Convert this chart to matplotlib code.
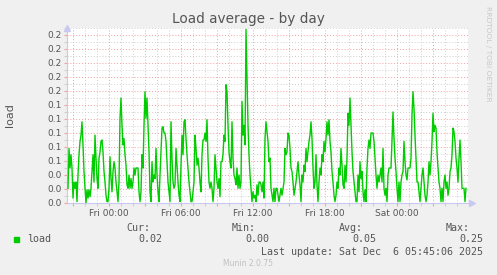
import matplotlib
matplotlib.use("Agg")
import matplotlib.pyplot as plt
import matplotlib.dates as mdates
from matplotlib.ticker import MultipleLocator, FuncFormatter
import pandas as pd

# ---- data (5-minute load samples) ----
load_seg1 = [0.021, 0.078, 0.050, 0.069, 0.050, 0.007, 0.030, 0.021, 0.030, 0.002, 0.040, 0.069, 0.088, 0.097, 0.116, 0.083, 0.045, 0.021, 0.000, 0.019, 0.007, 0.019, 0.009, 0.021, 0.045, 0.069, 0.030, 0.097, 0.064, 0.035, 0.021, 0.064, 0.073, 0.088, 0.090, 0.073, 0.045, 0.030, 0.011, 0.002, 0.002, 0.021, 0.066, 0.035, 0.016, 0.045, 0.059, 0.050, 0.030, 0.016, 0.002, 0.030, 0.121, 0.150, 0.111, 0.083, 0.092, 0.069, 0.054, 0.026, 0.021, 0.040, 0.021, 0.035, 0.021, 0.030, 0.050, 0.040]
load_seg2 = [0.050, 0.050, 0.050, 0.016, 0.002, 0.016, 0.069, 0.050, 0.111, 0.159, 0.121, 0.150, 0.111, 0.073, 0.016, 0.002, 0.059, 0.030, 0.040, 0.035, 0.078, 0.040, 0.016, 0.002, 0.040, 0.073, 0.107, 0.109, 0.100, 0.100, 0.088, 0.059, 0.030, 0.016, 0.002, 0.116, 0.064, 0.030, 0.021, 0.026, 0.078, 0.054, 0.030, 0.011, 0.002, 0.054, 0.097, 0.069, 0.116, 0.119, 0.092, 0.069, 0.050, 0.030, 0.016, 0.002, 0.002, 0.016, 0.030, 0.097, 0.078, 0.054, 0.064, 0.050, 0.030, 0.016]
load_seg3 = [0.069, 0.090, 0.090, 0.100, 0.088, 0.119, 0.064, 0.030, 0.021, 0.030, 0.021, 0.002, 0.021, 0.069, 0.050, 0.030, 0.021, 0.035, 0.009, 0.059, 0.059, 0.069, 0.097, 0.088, 0.169, 0.159, 0.111, 0.073, 0.059, 0.050, 0.116, 0.064, 0.040, 0.035, 0.026, 0.050, 0.021, 0.040, 0.021, 0.030, 0.145, 0.097, 0.111, 0.083, 0.248, 0.183, 0.111, 0.069, 0.040, 0.021, 0.002, 0.016, 0.007, 0.011, 0.002, 0.026, 0.011, 0.030, 0.030, 0.026, 0.016, 0.030, 0.007, 0.092, 0.116, 0.102, 0.088, 0.059]
load_seg4 = [0.064, 0.021, 0.011, 0.002, 0.021, 0.002, 0.021, 0.021, 0.011, 0.002, 0.011, 0.021, 0.011, 0.021, 0.030, 0.078, 0.069, 0.073, 0.100, 0.097, 0.078, 0.050, 0.045, 0.030, 0.011, 0.021, 0.030, 0.045, 0.059, 0.040, 0.026, 0.002, 0.040, 0.030, 0.054, 0.045, 0.078, 0.059, 0.073, 0.088, 0.097, 0.116, 0.092, 0.050, 0.021, 0.030, 0.069, 0.026, 0.002, 0.030, 0.050, 0.040, 0.069, 0.059, 0.088, 0.073, 0.092, 0.116, 0.097, 0.119, 0.088, 0.073, 0.045, 0.030, 0.011, 0.002, 0.011, 0.030]
load_seg5 = [0.021, 0.050, 0.040, 0.078, 0.054, 0.026, 0.021, 0.054, 0.030, 0.064, 0.128, 0.111, 0.150, 0.111, 0.073, 0.045, 0.030, 0.016, 0.002, 0.002, 0.040, 0.016, 0.059, 0.035, 0.045, 0.016, 0.002, 0.019, 0.002, 0.050, 0.078, 0.090, 0.078, 0.100, 0.100, 0.100, 0.088, 0.064, 0.040, 0.021, 0.040, 0.030, 0.040, 0.050, 0.030, 0.078, 0.021, 0.011, 0.021, 0.002, 0.040, 0.050, 0.050, 0.050, 0.088, 0.130, 0.092, 0.064, 0.045, 0.021, 0.002, 0.030, 0.002, 0.030, 0.040, 0.045, 0.088, 0.059]
load_seg6 = [0.040, 0.033, 0.050, 0.050, 0.050, 0.064, 0.126, 0.159, 0.135, 0.097, 0.064, 0.030, 0.030, 0.016, 0.002, 0.021, 0.040, 0.050, 0.030, 0.011, 0.002, 0.011, 0.030, 0.059, 0.040, 0.059, 0.088, 0.128, 0.102, 0.111, 0.107, 0.073, 0.050, 0.030, 0.021, 0.002, 0.021, 0.002, 0.030, 0.040, 0.021, 0.030, 0.011, 0.021, 0.045, 0.050, 0.069, 0.107, 0.102, 0.088, 0.064, 0.050, 0.030, 0.064, 0.090, 0.059, 0.021, 0.021, 0.021, 0.002, 0.021]
load = load_seg1 + load_seg2 + load_seg3 + load_seg4 + load_seg5 + load_seg6

last_sample = "2025-12-06 05:45"
x_start = "2025-12-04 20:30"
x_end = "2025-12-06 05:55"

title = "Load average - by day"
ylabel = "load"
series_name = "load"
stat_headers = ["Cur:", "Min:", "Avg:", "Max:"]
stat_values = ["0.02", "0.00", "0.05", "0.25"]
last_update = "Last update: Sat Dec  6 05:45:06 2025"
footer = "Munin 2.0.75"
side_text = "RRDTOOL / TOBI OETIKER"

times = pd.date_range(end=last_sample, periods=len(load), freq="5min")

# ---- figure ----
W, H = 497, 275
fig = plt.figure(figsize=(W / 100, H / 100), dpi=100, facecolor="#F0F0F0")
L, R, T, B = 67, 468, 28, 203
ax = fig.add_axes([L / W, 1 - B / H, (R - L) / W, (B - T) / H])
ax.set_facecolor("white")

ax.plot(times, load, color="#00CC00", linewidth=1.0, zorder=3)

ax.set_xlim(pd.Timestamp(x_start), pd.Timestamp(x_end))
ax.set_ylim(0, 0.25)

red = "#F2A0A0"
grey = "#CFCFCF"
ax.yaxis.set_major_locator(MultipleLocator(0.02))
ax.yaxis.set_minor_locator(MultipleLocator(0.01))
ax.yaxis.set_major_formatter(FuncFormatter(lambda v, p: "%.1f" % v))
ax.xaxis.set_major_locator(mdates.HourLocator(byhour=range(0, 24, 3)))
ax.xaxis.set_minor_locator(mdates.HourLocator())


def xfmt(v, p):
    d = mdates.num2date(v)
    if d.hour % 6 == 0:
        return d.strftime("%a %H:%M")
    return ""


ax.xaxis.set_major_formatter(FuncFormatter(xfmt))

ax.grid(which="minor", color=grey, linestyle=(0, (1, 2)), linewidth=0.7, zorder=1)
ax.grid(which="major", color=red, linestyle=(0, (1, 2)), linewidth=0.7, zorder=2)

for s in ["top", "right"]:
    ax.spines[s].set_visible(False)
for s in ["left", "bottom"]:
    ax.spines[s].set_color("#C8C8F0")
    ax.spines[s].set_linewidth(0.8)

ax.tick_params(axis="both", which="major", colors=red, length=2, width=0.8,
               labelcolor="#555555", labelsize=6.5, pad=2)
ax.tick_params(axis="both", which="minor", colors=grey, length=2, width=0.8)
ax.tick_params(axis="y", which="both", direction="out")

# axis arrows
ax.plot([0], [1.0], transform=ax.transAxes, marker="^", color="#C8C8F0",
        markersize=4, clip_on=False)
ax.plot([1.01], [0], transform=ax.transAxes, marker=">", color="#C8C8F0",
        markersize=4, clip_on=False)

ax.set_ylabel(ylabel, fontsize=8, color="#555555")
ax.yaxis.set_label_coords(-52 / (R - L), 0.5)

fig.text(248 / W, 1 - 19 / H, title, ha="center", va="center",
         fontsize=9.8, color="#555555")
fig.text(488 / W, 1 - 54 / H, side_text, rotation=270, ha="center", va="center",
         fontsize=5.4, color="#C8C8C8")

mono = "DejaVu Sans Mono"
fs = 7.2
col = "#555555"
hdr_right = [150, 256, 363, 470]
val_right = [162, 269, 376, 483]
for h, xr in zip(stat_headers, hdr_right):
    fig.text(xr / W, 1 - 228 / H, h, ha="right", va="center", family=mono,
             fontsize=fs, color=col)
for v, xr in zip(stat_values, val_right):
    fig.text(xr / W, 1 - 239 / H, v, ha="right", va="center", family=mono,
             fontsize=fs, color=col)
fig.patches.append(plt.Rectangle((14 / W, 1 - 242 / H), 5 / W, 5 / H,
                                 transform=fig.transFigure, color="#00CC00"))
fig.text(27 / W, 1 - 239 / H, series_name, ha="left", va="center", family=mono,
         fontsize=fs, color=col)
fig.text(483 / W, 1 - 252 / H, last_update, ha="right", va="center", family=mono,
         fontsize=fs, color=col)
fig.text(248 / W, 1 - 264 / H, footer, ha="center", va="center",
         fontsize=5.5, color="#C0C0C0")

fig.savefig("out.png", dpi=100, facecolor=fig.get_facecolor())
